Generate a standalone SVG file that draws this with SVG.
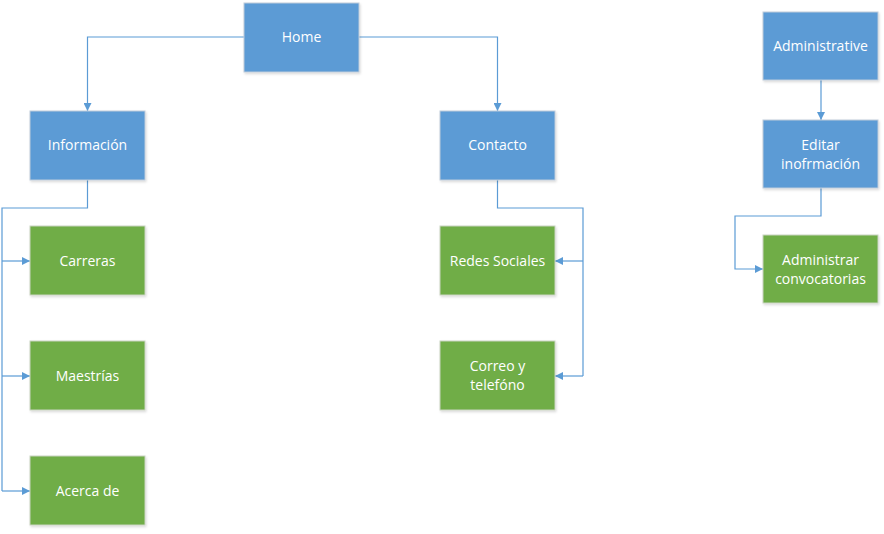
<svg xmlns="http://www.w3.org/2000/svg" width="884" height="534" viewBox="0 0 884 534">
<defs>
<marker id="arr" viewBox="0 0 10 10" refX="10" refY="5" markerWidth="8" markerHeight="8" markerUnits="userSpaceOnUse" orient="auto">
<path d="M0,0 L10,5 L0,10 z" fill="#5B9BD5"/>
</marker>
<filter id="sh" x="-10%" y="-10%" width="130%" height="130%">
<feDropShadow dx="1" dy="1.5" stdDeviation="1" flood-color="#000" flood-opacity="0.15"/>
</filter>
</defs>
<style>
.b rect{fill:#5B9BD5;stroke:#BFCBDA;stroke-width:1;filter:url(#sh)}
.g rect{fill:#70AD47;stroke:#C9D3C2;stroke-width:1;filter:url(#sh)}
text{font-family:"Open Sans","Noto Sans","Liberation Sans",sans-serif;font-size:14px;fill:#FFFFFF;text-anchor:middle}
.c path{fill:none;stroke:#5B9BD5;stroke-width:1.2}
</style>
<rect width="884" height="534" fill="#FFFFFF"/>
<g class="c" id="connectors">
<path d="M244,37 H87.5 V111" marker-end="url(#arr)"/>
<path d="M359,37 H497.5 V111" marker-end="url(#arr)"/>
<path d="M87.5,180 V208 H2 V491"/>
<path d="M2,261 H30" marker-end="url(#arr)"/>
<path d="M2,376 H30" marker-end="url(#arr)"/>
<path d="M2,491 H30" marker-end="url(#arr)"/>
<path d="M497.5,180 V208 H583 V376"/>
<path d="M583,261 H555" marker-end="url(#arr)"/>
<path d="M583,376 H555" marker-end="url(#arr)"/>
<path d="M821,80 V120" marker-end="url(#arr)"/>
<path d="M821,188 V216 H735 V269 H763" marker-end="url(#arr)"/>
</g>
<g id="home" class="b"><rect x="244" y="3" width="115" height="69"/><text x="301.5" y="42">Home</text></g>
<g id="informacion" class="b"><rect x="30" y="111" width="115" height="69"/><text x="87.5" y="150">Información</text></g>
<g id="contacto" class="b"><rect x="440" y="111" width="115" height="69"/><text x="497.5" y="150">Contacto</text></g>
<g id="carreras" class="g"><rect x="30" y="226" width="115" height="69"/><text x="87.5" y="266">Carreras</text></g>
<g id="maestrias" class="g"><rect x="30" y="341" width="115" height="69"/><text x="87.5" y="381">Maestrías</text></g>
<g id="acerca" class="g"><rect x="30" y="456" width="115" height="69"/><text x="87.5" y="496">Acerca de</text></g>
<g id="redes" class="g"><rect x="440" y="226" width="115" height="69"/><text x="497.5" y="266">Redes Sociales</text></g>
<g id="correo" class="g"><rect x="440" y="341" width="115" height="69"/><text x="497.5" y="371">Correo y</text><text x="497.5" y="390">telefóno</text></g>
<g id="administrative" class="b"><rect x="763" y="12" width="115" height="68"/><text x="820.5" y="51">Administrative</text></g>
<g id="editar" class="b"><rect x="763" y="120" width="115" height="68"/><text x="820.5" y="150">Editar</text><text x="820.5" y="169">inofrmación</text></g>
<g id="administrar" class="g"><rect x="763" y="235" width="115" height="68"/><text x="820.5" y="265">Administrar</text><text x="820.5" y="284">convocatorias</text></g>
</svg>
